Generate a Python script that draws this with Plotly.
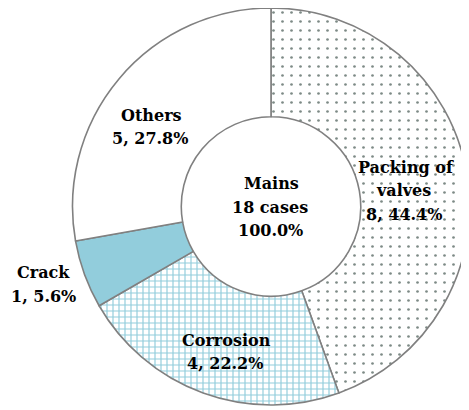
import plotly.graph_objects as go

categories = ["Packing of valves", "Corrosion", "Crack", "Others"]
cases = [8, 4, 1, 5]
percents = [44.4, 22.2, 5.6, 27.8]
center_title = "Mains"
total_cases = 18
total_percent = 100.0

W, H = 469, 410
OFF = 8  # page body margin offset (px)

def to_paper(px, py):
    return (px - OFF) / W, 1 - (py - OFF) / H

# label line positions in screen pixels: list of (x, y) per text line
label_lines = {
    "Packing of valves": [("Packing of", 406, 167), ("valves", 403, 191), (None, 404, 214)],
    "Corrosion": [("Corrosion", 226, 340), (None, 225, 363)],
    "Crack": [("Crack", 43, 272), (None, 43, 296)],
    "Others": [("Others", 151, 115), (None, 150, 138)],
}
center_lines = [(271, 184), (270, 207), (270, 230)]

fills = ["white", "white", "#92CDDC", "white"]
pattern = dict(
    shape=[".", "+", "", ""],
    fgcolor=["#7d8a86", "#92CDDC", "#92CDDC", "white"],
    size=[9, 6, 6, 6],
    solidity=[0.07, 0.35, 0.3, 0.3],
)

# pie geometry in screen px: center (271, 206), radius 199
cx, cy, r = 271, 206, 199
x0, y0 = to_paper(cx - r, cy + r)
x1, y1 = to_paper(cx + r, cy - r)

fig = go.Figure(go.Pie(
    labels=categories,
    values=cases,
    sort=False,
    direction="clockwise",
    rotation=0,
    hole=0.452,
    textinfo="none",
    marker=dict(colors=fills, pattern=pattern,
                line=dict(color="#808080", width=1.6)),
    domain=dict(x=[max(0, x0), min(1, x1)], y=[max(0, y0), min(1, y1)]),
    showlegend=False,
))

font = dict(family="DejaVu Serif", size=16, color="black", weight="bold")
ann = []

def add(text, px, py):
    x, y = to_paper(px, py)
    ann.append(dict(x=x, y=y, xref="paper", yref="paper", text=text,
                    showarrow=False, font=font, align="center",
                    xanchor="center", yanchor="middle"))

for cat, n, p in zip(categories, cases, percents):
    for txt, px, py in label_lines[cat]:
        add(txt if txt is not None else f"{n}, {p:.1f}%", px, py)

center_texts = [center_title, f"{total_cases} cases", f"{total_percent:.1f}%"]
for txt, (px, py) in zip(center_texts, center_lines):
    add(txt, px, py)

fig.update_layout(width=W, height=H, margin=dict(l=0, r=0, t=0, b=0),
                  paper_bgcolor="white", plot_bgcolor="white", annotations=ann)
fig.write_html("out.html")
